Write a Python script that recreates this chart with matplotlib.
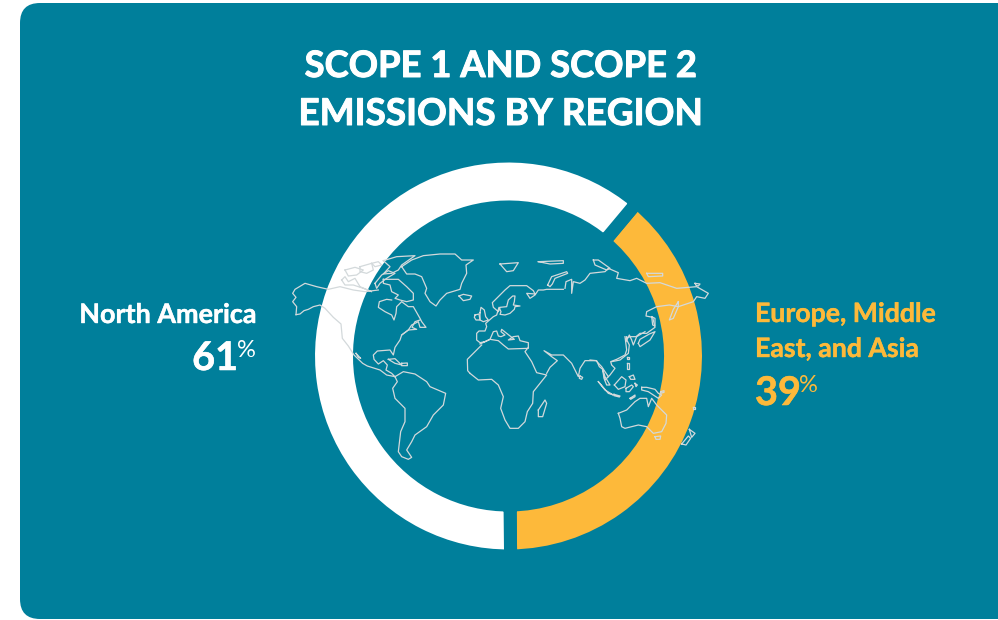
# plot.py - scope 1 and 2 emissions donut over a world outline

import matplotlib
matplotlib.use("Agg")
import matplotlib.pyplot as plt
import matplotlib.patheffects as pe
from matplotlib.patches import FancyBboxPatch

plt.rcParams["font.family"] = ["Lato", "DejaVu Sans"]

TEAL = "#007f9b"
ORANGE = "#fdb93a"
WHITE = "#ffffff"
MAP_LINE = "#d3d9db"

# Donut values
regions = ["Europe, Middle East, and Asia", "North America"]
labels_pct = [39, 61]
ring_shares = [38.75, 61.25]  # as read from the ring itself
colors = [ORANGE, WHITE]

title_lines = ["SCOPE 1 AND SCOPE 2", "EMISSIONS BY REGION"]

# World outline (x, y as 3x crop positions)
# americas crop starts at pixel (280, 240)
north_america = [(48, 224), (60, 222), (72, 212), (85, 208), (100, 200), (120, 195), (135, 205), (160, 232),
                 (183, 252), (187, 295), (205, 318), (222, 345), (248, 370), (262, 378), (300, 390), (320, 405),
                 (345, 410), (335, 400), (318, 390), (322, 375), (310, 362), (295, 372), (282, 358), (280, 345),
                 (292, 333), (330, 330), (340, 345), (345, 322), (360, 300), (365, 285), (385, 270), (410, 268),
                 (396, 262), (405, 245), (420, 240)]
alaska_north = [(48, 224), (50, 200), (38, 185), (48, 172), (38, 160), (45, 148), (75, 130), (110, 140), (145, 148),
                (180, 140), (220, 150), (255, 155), (295, 150)]
iceland = [(537, 168), (550, 163), (575, 168), (570, 178), (550, 182), (537, 168)]
south_america = [(345, 410), (370, 395), (405, 402), (440, 425), (450, 440), (497, 460), (490, 495), (460, 525),
                 (440, 560), (405, 585), (395, 605), (380, 630), (395, 652), (385, 658), (365, 650), (355, 635),
                 (362, 575), (375, 545), (375, 505), (345, 475), (338, 445), (352, 425), (345, 410)]
cuba = [(325, 358), (345, 356), (365, 375), (345, 370), (325, 358)]
hispaniola = [(365, 370), (382, 369), (382, 377), (365, 377), (365, 370)]
baja = [(228, 340), (242, 355), (235, 352), (228, 340)]
west_africa = [(605, 315), (562, 358), (563, 392), (570, 400)]
americas_lines = [north_america, alaska_north, iceland, south_america, cuba, hispaniola, baja, west_africa]

# arctic crop starts at pixel (340, 250)
greenland = [(185, 50), (215, 30), (250, 17), (300, 12), (345, 12), (365, 30), (400, 30), (378, 45), (380, 70),
             (365, 100), (360, 118), (320, 130), (300, 150), (288, 168), (270, 155), (255, 130), (260, 115),
             (245, 80), (225, 72), (200, 72), (185, 50)]
ellesmere = [(130, 32), (170, 20), (225, 17), (185, 45), (175, 60), (155, 70), (130, 72), (150, 50), (130, 32)]
baffin = [(105, 100), (125, 75), (145, 62), (165, 70), (140, 85), (120, 100), (110, 115), (105, 100)]
quebec = [(130, 88), (175, 88), (200, 110), (220, 130), (220, 150), (200, 155), (180, 150), (165, 145), (175, 135),
          (155, 125), (150, 105), (130, 100), (130, 88)]
hudson = [(155, 150), (140, 148), (118, 155), (115, 172), (135, 185), (155, 195), (162, 210), (168, 190), (170, 170),
          (185, 155), (205, 170), (220, 170), (240, 205), (245, 215), (258, 232), (240, 232), (235, 215), (215, 225),
          (205, 240), (185, 255)]
arctic_a = [(5, 90), (15, 80), (25, 95), (45, 85), (60, 110), (95, 125), (70, 115), (40, 105), (15, 105), (5, 90)]
arctic_b = [(15, 60), (45, 52), (70, 60), (50, 75), (25, 78), (15, 60)]
arctic_c = [(60, 50), (95, 40), (100, 60), (80, 70), (60, 65), (60, 50)]
arctic_d = [(95, 40), (115, 35), (125, 45), (105, 50), (95, 40)]
arctic_lines = [greenland, ellesmere, baffin, quebec, hudson, arctic_a, arctic_b, arctic_c, arctic_d]

# europe crop starts at pixel (465, 270)
europe_coast = [(45, 222), (75, 208), (100, 212), (115, 225), (130, 237), (190, 235), (190, 218), (165, 212),
                (160, 198), (145, 200), (130, 210), (148, 208), (125, 190), (110, 178), (108, 185), (120, 195),
                (108, 200), (100, 198), (95, 183), (85, 185), (75, 208), (60, 215), (45, 218), (35, 210), (35, 190),
                (42, 183), (60, 183), (65, 170), (62, 160), (85, 140), (95, 135), (102, 112), (108, 125), (105, 133),
                (120, 135), (135, 130), (148, 118), (150, 110), (165, 108), (145, 105), (148, 95), (150, 78),
                (143, 78), (130, 90), (125, 110), (105, 112), (100, 125), (85, 112), (82, 98), (95, 85), (120, 60),
                (135, 47), (185, 47), (205, 62), (210, 72), (185, 70), (195, 85), (210, 75), (220, 60), (235, 60),
                (245, 58), (270, 58), (295, 58)]
britain = [(45, 128), (48, 112), (58, 120), (62, 140), (70, 150), (55, 155), (45, 150), (45, 128)]
ireland = [(30, 135), (42, 132), (45, 150), (33, 150), (28, 142), (30, 135)]
novaya_zemlya = [(248, 45), (260, 20), (305, 5), (308, 10), (270, 25), (262, 42), (255, 50), (248, 45)]
europe_lines = [europe_coast, britain, ireland, novaya_zemlya]

# asia crop starts at pixel (470, 240)
africa = [(0, 400), (25, 420), (65, 418), (85, 435), (100, 470), (92, 505), (105, 540), (120, 565), (145, 565),
          (165, 545), (172, 515), (188, 490), (190, 455), (230, 405), (200, 398), (185, 365), (165, 335),
          (175, 322)]
asia_north = [(285, 145), (288, 125), (305, 118), (305, 160), (310, 125), (330, 130), (345, 120), (360, 100),
              (405, 95), (415, 85), (445, 98), (440, 115), (480, 122), (500, 115), (530, 130), (570, 128), (620, 145),
              (680, 140), (715, 160), (705, 175), (680, 170), (670, 185), (625, 200), (598, 195), (560, 200),
              (530, 215), (528, 228), (548, 232), (555, 262), (530, 280), (510, 280), (498, 290), (480, 290),
              (468, 295), (478, 315), (475, 340), (450, 360), (425, 365)]
asia_south = [(415, 410), (395, 380), (378, 362), (345, 362), (330, 385), (325, 410), (305, 370), (280, 345),
              (245, 345), (222, 332), (245, 350), (262, 362), (240, 382), (230, 400)]
kamchatka = [(625, 185), (610, 208), (598, 240), (610, 235), (625, 200), (625, 185)]
sakhalin = [(545, 230), (555, 235), (555, 258), (548, 255), (545, 230)]
sri_lanka = [(330, 408), (338, 412), (335, 418), (328, 415), (330, 408)]
madagascar = [(205, 510), (225, 480), (230, 490), (218, 530), (205, 530), (205, 510)]
svalbard = [(90, 72), (145, 68), (130, 92), (110, 95), (90, 72)]
franz_josef = [(205, 65), (280, 62), (280, 70), (240, 72), (205, 65)]
severnaya = [(370, 60), (385, 60), (420, 85), (410, 90), (375, 75), (370, 60)]
new_siberian = [(530, 100), (578, 100), (578, 108), (535, 110), (530, 100)]
wrangel = [(675, 130), (690, 132), (685, 138), (678, 136), (675, 130)]
asia_lines = [africa, asia_north, asia_south, kamchatka, sakhalin, sri_lanka, madagascar, svalbard, franz_josef,
              severnaya, new_siberian, wrangel]

# pacific crop starts at pixel (590, 330)
se_asia_coast = [(0, 90), (20, 92), (28, 110), (38, 118), (45, 150), (60, 135), (75, 115), (65, 105), (62, 95),
                 (80, 88), (105, 75), (110, 60), (105, 20)]
malay = [(38, 118), (45, 140), (60, 165), (50, 165), (42, 145), (38, 118)]
japan = [(145, 40), (150, 28), (178, 12), (195, 5), (180, 30), (150, 50), (145, 40)]
korea = [(110, 20), (108, 35), (118, 15), (125, 30), (130, 45), (140, 20), (165, 5)]
taiwan = [(110, 100), (118, 100), (118, 118), (110, 118), (110, 100)]
luzon = [(112, 80), (118, 80), (118, 88), (112, 88), (112, 80)]
sumatra = [(25, 155), (55, 190), (70, 195), (45, 180), (25, 155)]
java = [(72, 193), (90, 198), (88, 201), (72, 197), (72, 193)]
borneo = [(73, 165), (95, 140), (108, 150), (105, 170), (85, 178), (73, 165)]
philippines = [(118, 140), (130, 135), (135, 148), (122, 148), (118, 140)]
sulawesi = [(108, 175), (125, 165), (130, 170), (118, 185), (108, 185), (108, 175)]
moluccas = [(135, 160), (142, 165), (138, 170), (135, 160)]
new_guinea = [(155, 172), (170, 172), (195, 178), (205, 190), (215, 195), (205, 205), (190, 195), (175, 185),
              (155, 180), (155, 172)]
new_britain = [(212, 185), (222, 182), (222, 187), (212, 190), (212, 185)]
timor = [(120, 205), (135, 195), (135, 200), (122, 208), (120, 205)]
new_caledonia = [(308, 230), (316, 230), (316, 236), (308, 236), (308, 230)]
australia = [(85, 250), (110, 240), (135, 215), (150, 205), (170, 205), (175, 230), (185, 205), (200, 225), (230, 255),
             (228, 280), (215, 305), (190, 310), (170, 290), (145, 285), (105, 295), (95, 290), (90, 265), (85, 250)]
tasmania = [(195, 320), (212, 318), (210, 328), (198, 328), (195, 320)]
nz_north = [(298, 298), (315, 310), (305, 322), (298, 298)]
nz_south = [(275, 342), (295, 318), (302, 325), (288, 345), (275, 342)]
pacific_lines = [se_asia_coast, malay, japan, korea, taiwan, luzon, sumatra, java, borneo, philippines, sulawesi,
                 moluccas, new_guinea, new_britain, timor, new_caledonia, australia, tasmania, nz_north, nz_south]

fig = plt.figure(figsize=(9.98, 6.2), dpi=100, facecolor="white")
ax = fig.add_axes([0, 0, 1, 1])

# Card, runs off the right side
card = FancyBboxPatch((20 + 20, 1 + 20), 1100, 616 - 40, boxstyle="round,pad=20,rounding_size=20",
                      fc=TEAL, ec="none", zorder=0)
ax.add_patch(card)

# Teal edge gives the gaps, radius and width are grown to make up for it
ax.pie(ring_shares, colors=colors, center=(508.5, 264), radius=200, startangle=-89.4, counterclock=True,
       frame=True, wedgeprops=dict(width=51, edgecolor=TEAL, linewidth=9.4, joinstyle="miter"))

ax.set_xlim(0, 998)
ax.set_ylim(0, 620)
ax.set_aspect("equal")
ax.axis("off")


def draw_outline(points, x0, y0):
    xs = [x0 + p[0] / 3 for p in points]
    ys = [620 - (y0 + p[1] / 3) for p in points]
    ax.plot(xs, ys, color=MAP_LINE, lw=0.9, solid_joinstyle="round", zorder=3)


for line in americas_lines:
    draw_outline(line, 280, 240)
for line in arctic_lines:
    draw_outline(line, 340, 250)
for line in europe_lines:
    draw_outline(line, 465, 270)
for line in asia_lines:
    draw_outline(line, 470, 240)
for line in pacific_lines:
    draw_outline(line, 590, 330)

# Title, a thin stroke brings the bold up to the reference weight
heavy = [pe.withStroke(linewidth=0.7, foreground=WHITE)]
ax.text(500.5, 620 - 77, title_lines[0], color=WHITE, fontsize=26.2, fontweight="bold", ha="center",
        va="baseline", path_effects=heavy)
ax.text(500.5, 620 - 125, title_lines[1], color=WHITE, fontsize=26.6, fontweight="bold", ha="center",
        va="baseline", path_effects=heavy)

# Left label
ax.text(256, 620 - 323, "North America", color=WHITE, fontsize=19.4, fontweight="bold", ha="right", va="baseline",
        path_effects=[pe.withStroke(linewidth=0.3, foreground=WHITE)])
ax.text(238, 620 - 370, f"{labels_pct[1]}", color=WHITE, fontsize=28.5, fontweight="bold", ha="right", va="baseline",
        path_effects=[pe.withStroke(linewidth=0.4, foreground=WHITE)])
ax.text(237.5, 620 - 357, "%", color=WHITE, fontsize=17, ha="left", va="baseline")

# Right label
ax.text(755, 620 - 322, "Europe, Middle", color=ORANGE, fontsize=19.2, fontweight="bold", ha="left", va="baseline",
        path_effects=[pe.withStroke(linewidth=0.3, foreground=ORANGE)])
ax.text(755, 620 - 357, "East, and Asia", color=ORANGE, fontsize=19.2, fontweight="bold", ha="left", va="baseline",
        path_effects=[pe.withStroke(linewidth=0.3, foreground=ORANGE)])
ax.text(755, 620 - 405, f"{labels_pct[0]}", color=ORANGE, fontsize=28.5, fontweight="bold", ha="left", va="baseline",
        path_effects=[pe.withStroke(linewidth=0.4, foreground=ORANGE)])
ax.text(799.5, 620 - 392, "%", color=ORANGE, fontsize=17, ha="left", va="baseline")

fig.savefig("out.png", dpi=100, facecolor="white")
